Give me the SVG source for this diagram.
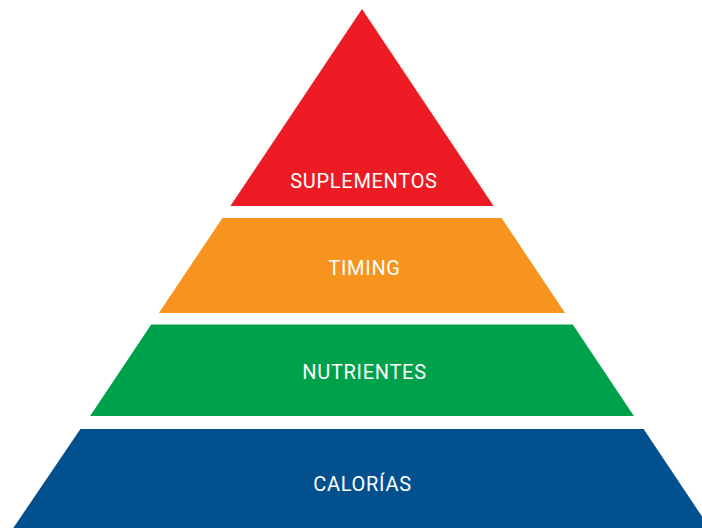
<svg xmlns="http://www.w3.org/2000/svg" width="702" height="528" viewBox="0 0 702 528">
<style>
.lbl{font-family:Roboto,"Liberation Sans",Arial,sans-serif;font-size:20px;letter-spacing:0.7px;fill:#ffffff;text-anchor:middle}
</style>
<rect width="702" height="528" fill="#ffffff"/>
<g id="suplementos">
<polygon points="362,9 493.6,206 230.4,206" fill="#ED1C24"/>
<text class="lbl" x="364" y="187.5">SUPLEMENTOS</text>
</g>
<g id="timing">
<polygon points="222.4,218 501.6,218 565.1,313 158.9,313" fill="#F7941E"/>
<text class="lbl" x="364.5" y="275">TIMING</text>
</g>
<g id="nutrientes">
<polygon points="151.2,324.5 572.8,324.5 633.9,416 90.1,416" fill="#00A14B"/>
<text class="lbl" x="364.5" y="379">NUTRIENTES</text>
</g>
<g id="calorias">
<polygon points="80.4,429 643.6,429 709.7,528 13.3,528" fill="#03508E"/>
<text class="lbl" x="362.5" y="491">CALORÍAS</text>
</g>
<g id="connectors"></g>
</svg>
